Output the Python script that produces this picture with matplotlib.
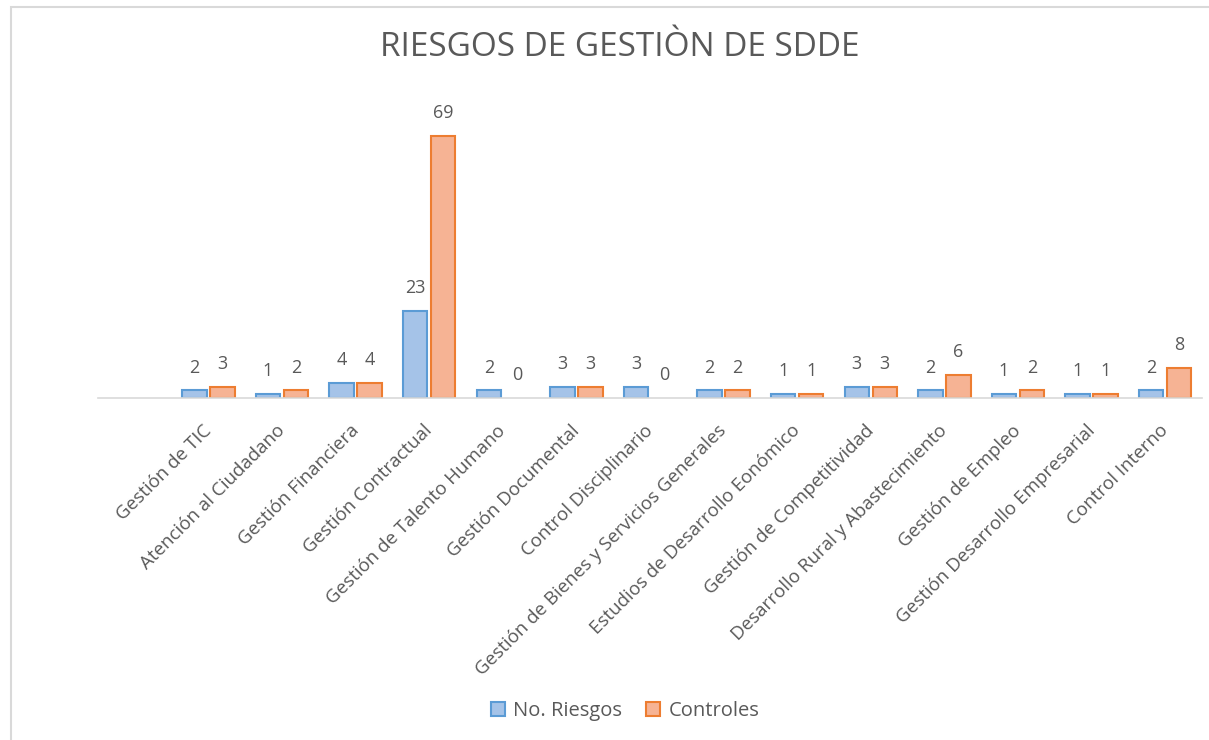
import numpy as np
import matplotlib.pyplot as plt
import matplotlib.transforms as mtransforms
from matplotlib.patches import Rectangle, Patch

plt.rcParams['font.family'] = ['Open Sans', 'DejaVu Sans']

# first category is blank in the original chart
categories = ["", "Gestión de TIC", "Atención al Ciudadano", "Gestión Financiera",
              "Gestión Contractual", "Gestión de Talento Humano", "Gestión Documental",
              "Control Disciplinario", "Gestión de Bienes y Servicios Generales",
              "Estudios de Desarrollo Eonómico", "Gestión de Competitividad",
              "Desarrollo Rural y Abastecimiento", "Gestión de Empleo",
              "Gestión Desarrollo Empresarial", "Control Interno"]
riesgos = [np.nan, 2, 1, 4, 23, 2, 3, 3, 2, 1, 3, 2, 1, 1, 2]
controles = [np.nan, 3, 2, 4, 69, 0, 3, 0, 2, 1, 3, 6, 2, 1, 8]
series_names = ["No. Riesgos", "Controles"]

text_col = "#595959"
blue_fill, blue_edge = "#a5c3e8", "#5b9bd5"
orange_fill, orange_edge = "#f6b394", "#ed7d31"

fig = plt.figure(figsize=(12.09, 7.40), dpi=100)
# chart frame (only left/top visible in the reference)
fig.patches.append(Rectangle((11 / 1209, -0.1), 1.2, 1.1 - 7.5 / 740,
                             transform=fig.transFigure, fill=False,
                             edgecolor="#d9d9d9", linewidth=1.5))

ax = fig.add_axes([98 / 1209, 1 - 398 / 740, 1104 / 1209, 304 / 740])
x = np.arange(len(categories))
w = 0.33
off = 0.19
b1 = ax.bar(x - off, riesgos, w, color=blue_fill, edgecolor=blue_edge, linewidth=1.5)
b2 = ax.bar(x + off, controles, w, color=orange_fill, edgecolor=orange_edge, linewidth=1.5)
# zero-height bars are not drawn in the original
for bars in (b1, b2):
    for p in bars:
        if not p.get_height() > 0:
            p.set_linewidth(0)

for xs, vals in ((x - off, riesgos), (x + off, controles)):
    for xi, v in zip(xs, vals):
        if np.isnan(v):
            continue
        ax.annotate(f"{int(v)}", (xi, v), xytext=(0, 10), textcoords="offset points",
                    ha="center", va="bottom", fontsize=13, color=text_col)

ax.set_xlim(-0.5, len(categories) - 0.5)
ax.set_ylim(0, 80)
ax.set_yticks([])
for s in ("top", "right", "left"):
    ax.spines[s].set_visible(False)
ax.spines["bottom"].set_color("#d9d9d9")
ax.spines["bottom"].set_linewidth(1.2)
ax.set_xticks(x)
ax.set_xticklabels(categories, rotation=45, ha="right", va="top",
                   rotation_mode="anchor", fontsize=13.5, color=text_col)
ax.tick_params(axis="x", length=0, pad=17)
shift = mtransforms.ScaledTranslation(-6 / 100, 0, fig.dpi_scale_trans)
for lab in ax.get_xticklabels():
    lab.set_transform(lab.get_transform() + shift)

fig.text(620 / 1209, 1 - 48 / 740, "RIESGOS DE GESTIÒN DE SDDE", ha="center", va="center",
         fontsize=24, color=text_col,
         family=["Liberation Sans Narrow", "Open Sans", "DejaVu Sans"])

handles = [Patch(facecolor=blue_fill, edgecolor=blue_edge, linewidth=1.5, label=series_names[0]),
           Patch(facecolor=orange_fill, edgecolor=orange_edge, linewidth=1.5, label=series_names[1])]
leg = fig.legend(handles=handles, loc="center", bbox_to_anchor=(625 / 1209, 1 - 711 / 740),
                 ncol=2, frameon=False, fontsize=14.5, handlelength=0.7, handleheight=0.7,
                 handletextpad=0.4, columnspacing=1.2)
for t in leg.get_texts():
    t.set_color(text_col)

fig.savefig("out.png", dpi=100)
